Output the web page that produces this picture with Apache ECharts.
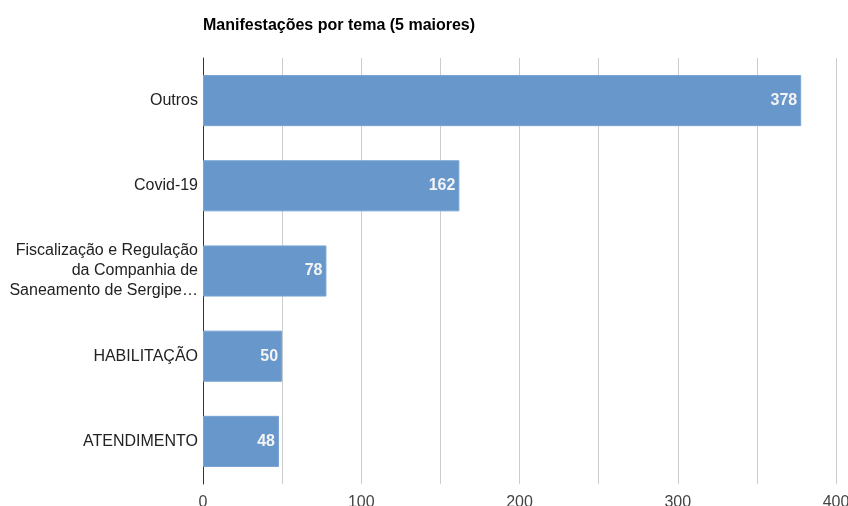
<!DOCTYPE html>
<html><head><meta charset="utf-8">
<script src="https://cdn.jsdelivr.net/npm/echarts@6/dist/echarts.min.js"></script>
<style>html,body{margin:0;padding:0;background:#fff}#c{width:848px;height:506px}</style>
</head><body><div id="c"></div>
<script>
const titleText = 'Manifestações por tema (5 maiores)';
const categories = ['Outros', 'Covid-19', 'Fiscalização e Regulação\nda Companhia de\nSaneamento de Sergipe…', 'HABILITAÇÃO', 'ATENDIMENTO'];
const values = [378, 162, 78, 50, 48];
const xMax = 400;
const xStep = 50;
const labelStep = 100;

const chart = echarts.init(document.getElementById('c'), null, {renderer: 'canvas'});
chart.setOption({
  animation: false,
  title: {
    text: titleText, left: 198, top: 13,
    textStyle: {fontFamily: 'Liberation Sans, Arial', fontSize: 16, fontWeight: 'bold', color: '#000'}
  },
  grid: {left: 203, right: 12, top: 58, bottom: 22, containLabel: false, outerBoundsMode: 'none'},
  xAxis: {
    type: 'value', min: 0, max: xMax, interval: xStep,
    axisLine: {show: false}, axisTick: {show: false},
    splitLine: {show: true, lineStyle: {color: '#cccccc', width: 1}},
    axisLabel: {
      margin: 11, color: '#444', fontFamily: 'Liberation Sans, Arial', fontSize: 16,
      formatter: v => (v % labelStep === 0 ? String(v) : '')
    }
  },
  yAxis: {
    type: 'category', data: categories, inverse: true,
    axisLine: {show: true, lineStyle: {color: '#333', width: 1}},
    axisTick: {show: false},
    axisLabel: {margin: 5, color: '#222', fontFamily: 'Liberation Sans, Arial', fontSize: 16, lineHeight: 20}
  },
  series: [{
    type: 'bar', data: values, barWidth: '60%',
    itemStyle: {color: '#6897cb', borderColor: '#7aa4d3', borderWidth: 1},
    label: {
      show: true, position: 'insideRight', distance: 4,
      color: '#f4f4f4', fontFamily: 'Liberation Sans, Arial', fontSize: 16, fontWeight: 'bold'
    }
  }]
});
</script></body></html>
